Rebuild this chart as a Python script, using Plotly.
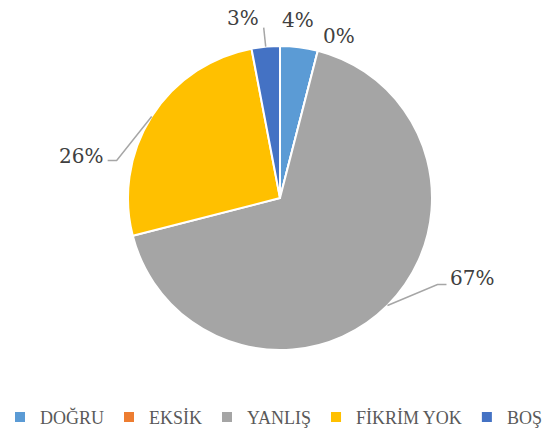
import math
import plotly.graph_objects as go

# ---- data ----
categories = ["DOĞRU", "EKSİK", "YANLIŞ", "FİKRİM YOK", "BOŞ"]
values = [4, 0, 67, 26, 3]
pct_labels = ["4%", "0%", "67%", "26%", "3%"]

# ---- style ----
colors = ["#5B9BD5", "#ED7D31", "#A5A5A5", "#FFC000", "#4472C4"]
W, H = 553, 437
CX, CY, R = 280, 198, 152
FONT = "Liberation Serif"
NUM_FONT = "DejaVu Serif"
label_style = [
    dict(dx=-1, dy=-27, xanchor="center", leader=None),
    dict(dx=21, dy=-15, xanchor="center", leader=None),
    dict(dx=61, dy=-27, xanchor="left", leader=[(50, -21), (59, -21)]),
    dict(dx=-47, dy=39, xanchor="right", leader=[(-35, 44), (-44, 44)]),
    dict(dx=-23, dy=-29, xanchor="center", leader=[(-2, -19)]),
]


def px(x, y):
    return x / W, 1 - y / H


fig = go.Figure()
fig.add_trace(go.Pie(
    labels=categories, values=values, sort=False, direction="clockwise",
    rotation=0, textinfo="none", hoverinfo="label+percent",
    marker=dict(colors=colors, line=dict(color="white", width=2)),
    domain=dict(x=[(CX - R) / W, (CX + R) / W], y=[1 - (CY + R) / H, 1 - (CY - R) / H]),
))

total = sum(values)
cum = 0
annotations = []
shapes = []
for i, v in enumerate(values):
    mid = (cum + v / 2) / total * 2 * math.pi
    cum += v
    ex = CX + R * math.sin(mid)
    ey = CY - R * math.cos(mid)
    st = label_style[i]
    tx, ty = px(ex + st["dx"], ey + st["dy"])
    annotations.append(dict(
        x=tx, y=ty, xref="paper", yref="paper", text=pct_labels[i], showarrow=False,
        xanchor=st["xanchor"], yanchor="middle",
        font=dict(family=NUM_FONT, size=20, color="#404040"),
    ))
    if st["leader"]:
        pts = [(ex, ey)] + [(ex + a, ey + b) for a, b in st["leader"]]
        path = "M " + " L ".join(f"{px(x, y)[0]},{px(x, y)[1]}" for x, y in pts)
        shapes.append(dict(type="path", path=path, xref="paper", yref="paper",
                           line=dict(color="#A6A6A6", width=1.5)))

fig.update_layout(
    width=W, height=H, margin=dict(l=0, r=0, t=0, b=0),
    paper_bgcolor="white", plot_bgcolor="white",
    annotations=annotations, shapes=shapes,
    showlegend=True,
    legend=dict(orientation="h", x=0.47, xanchor="center", y=0.045, yanchor="middle",
                font=dict(family=FONT, size=18, color="#595959"),
                itemwidth=30, tracegroupgap=0),
)
fig.write_html("out.html", config={"displayModeBar": False},
               post_script="document.body.style.margin='0';")
